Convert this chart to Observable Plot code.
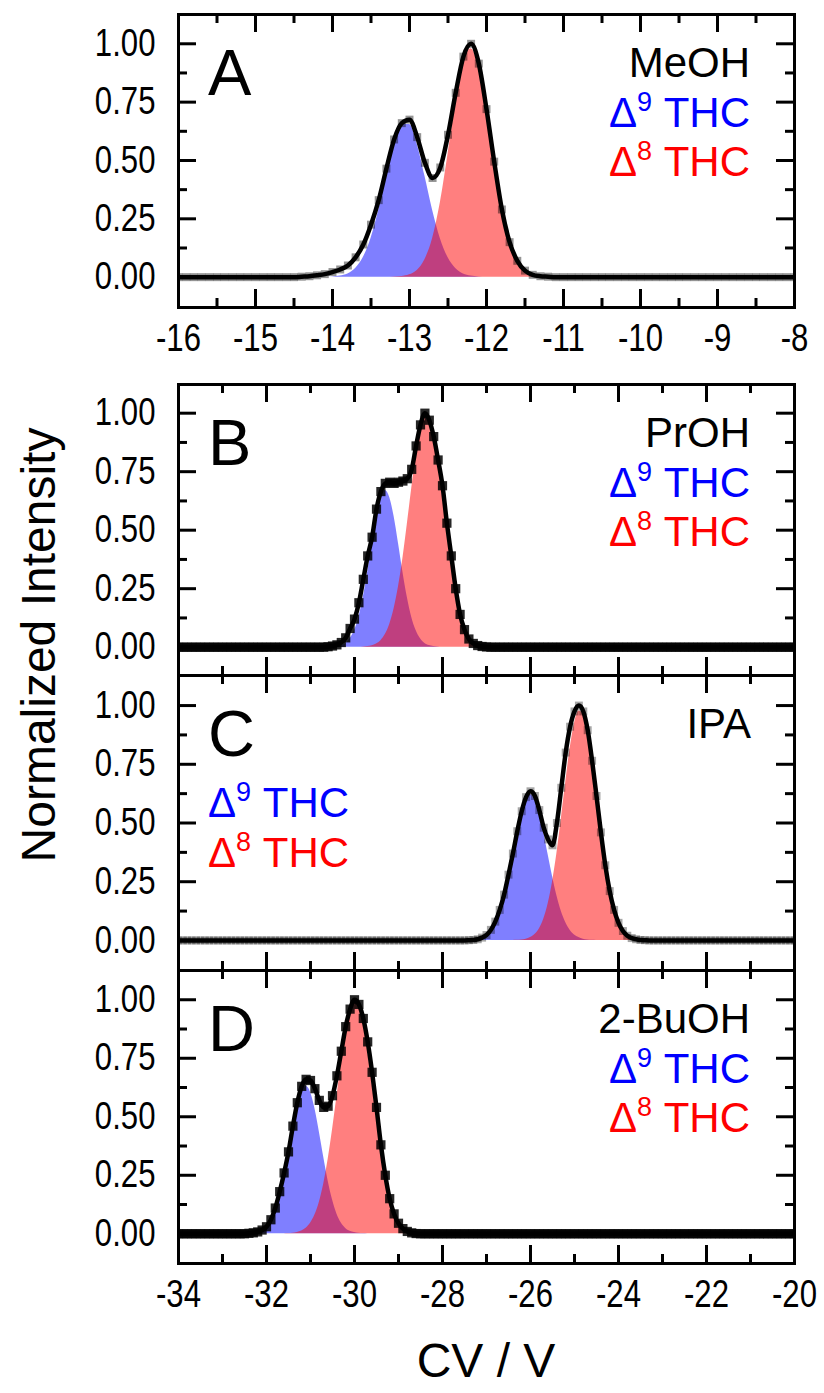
<!DOCTYPE html>
<html><head><meta charset="utf-8">
<script src="https://cdn.jsdelivr.net/npm/d3@7"></script>
<script src="https://cdn.jsdelivr.net/npm/@observablehq/plot@0.6"></script>
<style>
html,body{margin:0;padding:0;background:#fff;}
#fig{position:relative;width:824px;height:1393px;background:#fff;font-family:"Liberation Sans",Arial,sans-serif;}
#fig svg{position:absolute;left:0;}
</style></head><body><div id="fig"></div>
<script>
// ---------- data (grid step 0.1 V) ----------
const STEP = 0.1;

// Panel A (MeOH), x from -16 to -8
const aDataX0 = -16;
const aData = [0,0,0,0,0,0,0,0,0,0,0,0,0,0,0,0,
  0.002,0.004,0.008,0.013,0.022,0.033,0.05,0.085,0.14,0.225,0.33,0.465,0.59,0.66,0.675,0.60,0.49,0.425,0.47,0.61,0.79,0.945,1.0,0.915,0.72,0.495,0.29,0.15,0.07,0.028,0.01,0.004,0.002,
  0,0,0,0,0,0,0,0,0,0,0,0,0,0,0,0,0,0,0,0,0,0,0,0,0,0,0,0,0,0,0,0];
const aBlueX0 = -14.1;
const aBlue = [0,0.001,0.005,0.014,0.037,0.084,0.166,0.287,0.433,0.570,0.654,0.654,0.570,0.433,0.287,0.166,0.084,0.037,0.014,0.005,0.001,0];
const aRedX0 = -13.3;
const aRed = [0,0.001,0.003,0.010,0.029,0.075,0.166,0.318,0.526,0.750,0.923,0.979,0.896,0.707,0.481,0.283,0.143,0.063,0.024,0.008,0.002,0.001,0];

// Panel B (PrOH), x from -34 to -20
const bDataX0 = -34;
const bData = [0,0,0,0,0,0,0,0,0,0,0,0,0,0,0,0,0,0,0,0,0,0,0,0,0,0,0,0,0,0,0,0,0,0,
  0.002,0.005,0.01,0.02,0.04,0.08,0.12,0.19,0.29,0.39,0.47,0.59,0.665,0.70,0.705,0.70,0.705,0.71,0.72,0.76,0.86,0.95,1.0,0.97,0.90,0.80,0.69,0.53,0.39,0.25,0.14,0.075,0.035,0.016,0.007,0.003,0.001,
  0,0,0,0,0,0,0,0,0,0,0,0,0,0,0,0,0,0,0,0,0,0,0,0,0,0,0,0,0,0,0,0,0,0,0,0,0,0,0,0,0,0,0,0,0,0,0,0,0,0,0,0,0,0,0,0,0,0,0,0,0,0,0,0,0,0,0,0,0,0];
const bBlueX0 = -30.6;
const bBlue = [0,0.001,0.003,0.007,0.016,0.036,0.071,0.128,0.213,0.321,0.443,0.558,0.640,0.670,0.640,0.558,0.443,0.321,0.213,0.128,0.071,0.036,0.016,0.007,0.003,0.001,0];
const bRedX0 = -29.9;
const bRed = [0,0.001,0.003,0.006,0.014,0.028,0.054,0.097,0.164,0.258,0.379,0.524,0.677,0.819,0.928,0.985,0.978,0.910,0.793,0.647,0.494,0.353,0.237,0.13,0.07,0.035,0.017,0.008,0.003,0.001,0];

// Panel C (IPA)
const cDataX0 = -34;
const cData = [0,0,0,0,0,0,0,0,0,0,0,0,0,0,0,0,0,0,0,0,0,0,0,0,0,0,0,0,0,0,0,0,0,0,0,0,0,0,0,0,0,0,0,0,0,0,0,0,0,0,0,0,0,0,0,0,0,0,0,0,0,0,0,0,0,0,
  0.001,0.002,0.005,0.012,0.023,0.045,0.08,0.13,0.195,0.28,0.37,0.465,0.55,0.61,0.635,0.615,0.555,0.48,0.43,0.405,0.50,0.65,0.80,0.91,0.975,1.0,0.975,0.895,0.765,0.615,0.46,0.32,0.21,0.13,0.075,0.04,0.02,0.01,0.005,0.002,0.001,
  0,0,0,0,0,0,0,0,0,0,0,0,0,0,0,0,0,0,0,0,0,0,0,0,0,0,0,0,0,0,0,0,0,0];
const cBlueX0 = -27.5;
const cBlue = [0,0.001,0.002,0.005,0.012,0.023,0.043,0.076,0.124,0.190,0.273,0.366,0.461,0.544,0.600,0.620,0.600,0.544,0.461,0.366,0.273,0.190,0.124,0.076,0.043,0.023,0.012,0.005,0.002,0.001,0];
const cRedX0 = -26.4;
const cRed = [0,0.001,0.002,0.005,0.012,0.025,0.049,0.090,0.155,0.248,0.370,0.517,0.672,0.816,0.924,0.977,0.963,0.887,0.761,0.610,0.456,0.318,0.207,0.126,0.071,0.038,0.019,0.009,0.004,0.002,0.001,0];

// Panel D (2-BuOH)
const dDataX0 = -34;
const dData = [0,0,0,0,0,0,0,0,0,0,0,0,0,0,0,0,
  0.002,0.004,0.008,0.016,0.03,0.06,0.11,0.18,0.26,0.35,0.46,0.56,0.63,0.66,0.655,0.62,0.57,0.54,0.545,0.59,0.675,0.78,0.885,0.96,1.0,0.98,0.92,0.82,0.69,0.54,0.38,0.25,0.15,0.085,0.045,0.022,0.01,0.004,0.001,
  0,0,0,0,0,0,0,0,0,0,0,0,0,0,0,0,0,0,0,0,0,0,0,0,0,0,0,0,0,0,0,0,0,0,0,0,0,0,0,0,0,0,0,0,0,0,0,0,0,0,0,0,0,0,0,0,0,0,0,0,0,0,0,0,0,0,0,0,0,0,0,0,0,0,0,0,0,0,0,0,0,0,0,0,0,0];
const dBlueX0 = -32.5;
const dBlue = [0,0.001,0.002,0.005,0.011,0.023,0.046,0.085,0.145,0.227,0.328,0.436,0.535,0.605,0.630,0.605,0.535,0.436,0.328,0.227,0.145,0.085,0.046,0.023,0.011,0.005,0.002,0.001,0];
const dRedX0 = -31.6;
const dRed = [0,0.001,0.002,0.006,0.012,0.024,0.045,0.080,0.134,0.212,0.316,0.443,0.586,0.730,0.857,0.948,0.989,0.971,0.899,0.784,0.644,0.499,0.364,0.245,0.145,0.080,0.040,0.020,0.009,0.004,0.001,0];

// tick values
const aMajorX = [-16,-15,-14,-13,-12,-11,-10,-9,-8];
const aMinorX = [-15.5,-14.5,-13.5,-12.5,-11.5,-10.5,-9.5,-8.5];
const bMajorX = [-34,-32,-30,-28,-26,-24,-22,-20];
const bMinorX = [-33,-31,-29,-27,-25,-23,-21];
const majorY = [0,0.25,0.5,0.75,1.0];
const minorY = [0.125,0.375,0.625,0.875];

// text
const solvents = ["MeOH","PrOH","IPA","2-BuOH"];
const letters = ["A","B","C","D"];
const yTitle = "Normalized Intensity";
const xTitle = "CV / V";

// ---------- helpers ----------
const rows = (x0, vals) => vals.map((v, i) => ({x: +(x0 + i * STEP).toFixed(2), y: v}));
const FONT = "'Liberation Sans', Arial, sans-serif";
const fig = document.getElementById("fig");

const panels = [
  {top: 14,  bottom: 307,  xd: [-16,-8],  yd: [-0.13, 1.1255], data: rows(aDataX0,aData), blue: rows(aBlueX0,aBlue), red: rows(aRedX0,aRed), maj: aMajorX, min: aMinorX, xLabels: true,  r: 4.5, op: 0.42},
  {top: 384, bottom: 675,  xd: [-34,-20], yd: [-0.121, 1.1226], data: rows(bDataX0,bData), blue: rows(bBlueX0,bBlue), red: rows(bRedX0,bRed), maj: bMajorX, min: bMinorX, xLabels: false, r: 5.2, op: 0.85},
  {top: 675, bottom: 970,  xd: [-34,-20], yd: [-0.128, 1.128],  data: rows(cDataX0,cData), blue: rows(cBlueX0,cBlue), red: rows(cRedX0,cRed), maj: bMajorX, min: bMinorX, xLabels: false, r: 4.5, op: 0.35},
  {top: 970, bottom: 1263, xd: [-34,-20], yd: [-0.127, 1.125],  data: rows(dDataX0,dData), blue: rows(dBlueX0,dBlue), red: rows(dRedX0,dRed), maj: bMajorX, min: bMinorX, xLabels: true,  r: 5.2, op: 0.85}
];

panels.forEach(p => {
  const fw = 616, fh = p.bottom - p.top;
  const mt = 6, mb = p.xLabels ? 80 : 6;
  const tk = {stroke: "#000", strokeWidth: 3};
  const marks = [
    Plot.areaY(p.blue, {x: "x", y: "y", fill: "#0000ff", fillOpacity: 0.5, curve: "monotone-x"}),
    Plot.areaY(p.red, {x: "x", y: "y", fill: "#ff0000", fillOpacity: 0.5, curve: "monotone-x"}),
    Plot.dot(p.data, {x: "x", y: "y", symbol: "square", r: p.r, fill: "#000", fillOpacity: p.op, stroke: null, clip: true}),
    Plot.line(p.data, {x: "x", y: "y", stroke: "#000", strokeWidth: 4.5, curve: "monotone-x", clip: true}),
    Plot.ruleX(p.maj, {x: d => d, insetTop: fh - 18, ...tk}),
    Plot.ruleX(p.maj, {x: d => d, insetBottom: fh - 18, ...tk}),
    Plot.ruleX(p.min, {x: d => d, insetTop: fh - 9, ...tk}),
    Plot.ruleX(p.min, {x: d => d, insetBottom: fh - 9, ...tk}),
    Plot.ruleY(majorY, {y: d => d, insetRight: fw - 18, ...tk}),
    Plot.ruleY(majorY, {y: d => d, insetLeft: fw - 18, ...tk}),
    Plot.ruleY(minorY, {y: d => d, insetRight: fw - 9, ...tk}),
    Plot.ruleY(minorY, {y: d => d, insetLeft: fw - 9, ...tk}),
    Plot.frame({stroke: "#000", strokeWidth: 3}),
    Plot.axisY(majorY, {tickSize: 0, tickPadding: 23, tickFormat: d3.format(".2f"), fontSize: 38, label: null})
  ];
  if (p.xLabels) marks.push(Plot.axisX(p.maj, {tickSize: 0, tickPadding: 17, tickFormat: d => String(d), fontSize: 38, label: null}));
  const svg = Plot.plot({
    width: 824, height: fh + mt + mb,
    marginLeft: 178, marginRight: 30, marginTop: mt, marginBottom: mb,
    x: {domain: p.xd, axis: null},
    y: {domain: p.yd, axis: null},
    style: {background: "transparent", overflow: "visible", fontFamily: FONT, color: "#000"},
    marks
  });
  svg.style.top = (p.top - mt) + "px";
  // condense the tick-label glyphs horizontally, as in the original (narrow face)
  svg.querySelectorAll('g[aria-label$="tick label"] text').forEach(t => {
    const tr = t.getAttribute("transform") || "";
    t.setAttribute("transform", tr + " scale(0.82,1)");
  });
  fig.appendChild(svg);
});

// ---------- text overlay ----------
const ov = d3.select(fig).append("svg")
  .attr("width", 824).attr("height", 1393)
  .style("top", "0px").style("pointer-events", "none")
  .style("font-family", FONT);

function thc(sel, digit, color) {
  sel.attr("fill", color);
  sel.append("tspan").text("Δ");
  sel.append("tspan").attr("font-size", 27).attr("dy", -16).text(digit);
  sel.append("tspan").attr("dy", 16).text(" THC");
}

panels.forEach((p, i) => {
  ov.append("text").attr("x", 208).attr("y", p.top + 81).attr("font-size", 65).text(letters[i]);
  if (i === 2) {
    ov.append("text").attr("x", 751).attr("y", p.top + 63).attr("font-size", 42).attr("text-anchor", "end").text(solvents[i]);
    thc(ov.append("text").attr("x", 208).attr("y", p.top + 141.5).attr("font-size", 42), "9", "#0000ff");
    thc(ov.append("text").attr("x", 208).attr("y", p.top + 191.5).attr("font-size", 42), "8", "#ff0000");
  } else {
    ov.append("text").attr("x", 750).attr("y", p.top + 62.5).attr("font-size", 42).attr("text-anchor", "end").text(solvents[i]);
    thc(ov.append("text").attr("x", 750).attr("y", p.top + 112.5).attr("font-size", 42).attr("text-anchor", "end"), "9", "#0000ff");
    thc(ov.append("text").attr("x", 750).attr("y", p.top + 162).attr("font-size", 42).attr("text-anchor", "end"), "8", "#ff0000");
  }
});

ov.append("text").attr("transform", "translate(55,645) rotate(-90)").attr("text-anchor", "middle").attr("font-size", 48).text(yTitle);
ov.append("text").attr("x", 486).attr("y", 1377).attr("text-anchor", "middle").attr("font-size", 48).text(xTitle);
</script></body></html>
